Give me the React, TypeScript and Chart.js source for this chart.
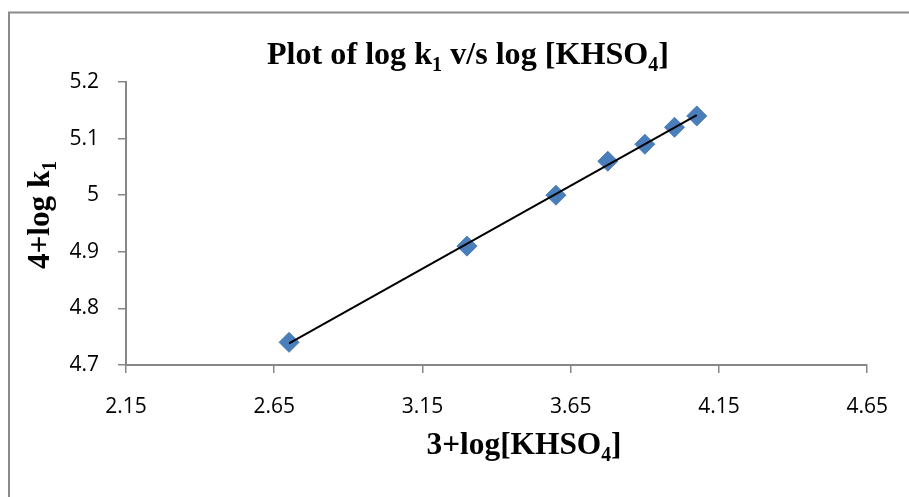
import React, { useEffect, useRef } from 'react';
import { Chart, registerables } from 'chart.js';

Chart.register(...registerables);

// ---- data ----
const xValues = [2.70, 3.30, 3.60, 3.775, 3.90, 4.00, 4.075];
const yValues = [4.74, 4.91, 5.00, 5.06, 5.09, 5.12, 5.14];
const xTicks = [2.15, 2.65, 3.15, 3.65, 4.15, 4.65];
const xTickLabels = ['2.15', '2.65', '3.15', '3.65', '4.15', '4.65'];
const yTicks = [4.7, 4.8, 4.9, 5.0, 5.1, 5.2];
const yTickLabels = ['4.7', '4.8', '4.9', '5', '5.1', '5.2'];
const titleParts: [string, boolean][] = [['Plot of log k', false], ['1', true], [' v/s log [KHSO', false], ['4', true], [']', false]];
const xTitleParts: [string, boolean][] = [['3+log[KHSO', false], ['4', true], [']', false]];
const yTitleParts: [string, boolean][] = [['4+log k', false], ['1', true]];

// least-squares linear trendline through the points
function trend() {
  const n = xValues.length;
  const mx = xValues.reduce((a, b) => a + b, 0) / n;
  const my = yValues.reduce((a, b) => a + b, 0) / n;
  let sxy = 0, sxx = 0;
  for (let i = 0; i < n; i++) {
    sxy += (xValues[i] - mx) * (yValues[i] - my);
    sxx += (xValues[i] - mx) ** 2;
  }
  const m = sxy / sxx;
  const b = my - m * mx;
  const x0 = Math.min(...xValues);
  const x1 = Math.max(...xValues);
  return [{ x: x0, y: m * x0 + b }, { x: x1, y: m * x1 + b }];
}

const SERIF = '"Liberation Serif", "Times New Roman", serif';

function drawRich(ctx: CanvasRenderingContext2D, parts: [string, boolean][], cx: number, baseline: number, targetWidth: number, rotate: boolean) {
  ctx.save();
  const mainFont = `bold 32px ${SERIF}`;
  const subFont = `bold 20px ${SERIF}`;
  let w = 0;
  for (const [t, sub] of parts) {
    ctx.font = sub ? subFont : mainFont;
    w += ctx.measureText(t).width;
  }
  const s = targetWidth / w;
  ctx.translate(cx, baseline);
  if (rotate) ctx.rotate(-Math.PI / 2);
  ctx.scale(s, 1);
  ctx.fillStyle = '#000';
  ctx.textAlign = 'left';
  ctx.textBaseline = 'alphabetic';
  let x = -w / 2;
  for (const [t, sub] of parts) {
    ctx.font = sub ? subFont : mainFont;
    ctx.fillText(t, x, sub ? 7 : 0);
    x += ctx.measureText(t).width;
  }
  ctx.restore();
}

const decorPlugin = {
  id: 'decor',
  beforeDraw(chart: any) {
    const ctx = chart.ctx as CanvasRenderingContext2D;
    ctx.save();
    ctx.fillStyle = '#fff';
    ctx.fillRect(0, 0, chart.width, chart.height);
    ctx.strokeStyle = '#8a8a8a';
    ctx.lineWidth = 2;
    ctx.strokeRect(9, 12.5, chart.width + 20, chart.height + 20);
    ctx.restore();
  },
  afterDraw(chart: any) {
    const ctx = chart.ctx as CanvasRenderingContext2D;
    drawRich(ctx, titleParts, 468, 64, 402, false);
    drawRich(ctx, xTitleParts, 524, 454, 195, false);
    drawRich(ctx, yTitleParts, 49, 215, 108, true);
  },
};

export default function App() {
  const ref = useRef<HTMLCanvasElement | null>(null);
  useEffect(() => {
    if (!ref.current) return;
    const axisColor = '#878787';
    const tickFont = { family: '"Open Sans", "Noto Sans", sans-serif', size: 21 };
    const chart = new Chart(ref.current, {
      type: 'scatter',
      data: {
        datasets: [
          {
            label: 'Trendline',
            data: trend(),
            showLine: true,
            borderColor: '#000000',
            borderWidth: 2,
            pointRadius: 0,
            pointHoverRadius: 0,
            fill: false,
          } as any,
          {
            label: '4+log k1',
            data: xValues.map((x, i) => ({ x, y: yValues[i] })),
            pointStyle: 'rectRot',
            pointRadius: 10,
            pointHoverRadius: 10,
            backgroundColor: '#4A7EBB',
            borderColor: '#4A7EBB',
            borderWidth: 1,
          },
        ],
      },
      options: {
        animation: false,
        responsive: true,
        maintainAspectRatio: false,
        layout: { padding: { top: 82, right: 41, left: 0, bottom: 0 } },
        plugins: {
          legend: { display: false },
          title: { display: false },
          tooltip: { enabled: false },
        },
        scales: {
          x: {
            type: 'linear',
            min: xTicks[0],
            max: xTicks[xTicks.length - 1],
            afterBuildTicks: (scale: any) => {
              scale.ticks = xTicks.map((v) => ({ value: v }));
            },
            afterFit: (scale: any) => {
              scale.height = 132;
            },
            ticks: {
              autoSkip: false,
              maxRotation: 0,
              padding: 21,
              color: '#000',
              font: tickFont,
              callback: (v: any) => {
                const i = xTicks.findIndex((t) => Math.abs(t - Number(v)) < 1e-9);
                return i >= 0 ? xTickLabels[i] : '';
              },
            },
            grid: { drawOnChartArea: false, drawTicks: true, tickLength: 8, color: axisColor, lineWidth: 1.5 },
            border: { display: true, color: axisColor, width: 2 },
          },
          y: {
            type: 'linear',
            min: yTicks[0],
            max: yTicks[yTicks.length - 1],
            afterBuildTicks: (scale: any) => {
              scale.ticks = yTicks.map((v) => ({ value: v }));
            },
            afterFit: (scale: any) => {
              scale.width = 126;
            },
            ticks: {
              autoSkip: false,
              padding: 19,
              color: '#000',
              font: tickFont,
              callback: (v: any) => {
                const i = yTicks.findIndex((t) => Math.abs(t - Number(v)) < 1e-9);
                return i >= 0 ? yTickLabels[i] : '';
              },
            },
            grid: { drawOnChartArea: false, drawTicks: true, tickLength: 8, color: axisColor, lineWidth: 1.5 },
            border: { display: true, color: axisColor, width: 2 },
          },
        },
      } as any,
      plugins: [decorPlugin],
    });
    return () => chart.destroy();
  }, []);

  return (
    <div style={{ position: 'absolute', left: 0, top: 0, width: 909, height: 497 }}>
      <canvas ref={ref} />
    </div>
  );
}
